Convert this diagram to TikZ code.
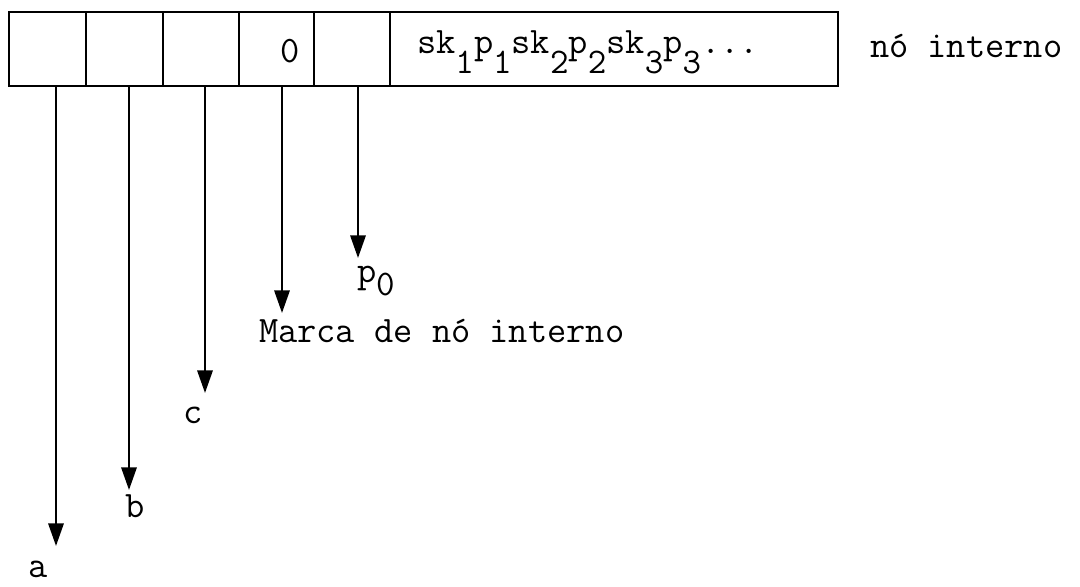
\documentclass[tikz,border=0pt]{standalone}
\usetikzlibrary{arrows.meta}
\newcommand\mysub[2]{\raisebox{#1}{\fontsize{27}{29}\selectfont #2}}
\tikzset{
  cell/.style={draw, line width=1.5pt, inner sep=0pt, outer sep=0pt, anchor=north west, minimum height=55.5pt},
  lbl/.style={font=\ttfamily\fontsize{28}{30}\selectfont, inner sep=0pt, outer sep=0pt},
  arr/.style={line width=1.7pt, -{Triangle[length=17pt,width=11.5pt]}}
}
\begin{document}
\begin{tikzpicture}[x=0.75pt,y=-0.75pt]
\useasboundingbox (0,0) rectangle (1080,586);
% cells
\node[cell, minimum width=57.75pt] (m1) at (9,12) {};
\node[cell, minimum width=57.75pt] (m2) at (86,12) {};
\node[cell, minimum width=57pt] (m3) at (163,12) {};
\node[cell, minimum width=56.25pt] (m4) at (239,12) {};
\node[cell, minimum width=57pt] (m5) at (314,12) {};
\node[cell, minimum width=336pt] (m6) at (390,12) {};
% texts in cells
\node[lbl, anchor=base] (n0) at (290,62) {0};
\node[lbl, anchor=base west] (nsk) at (417,53) {sk\mysub{-15pt}{1}p\mysub{-15pt}{1}sk\mysub{-15pt}{2}p\mysub{-15pt}{2}sk\mysub{-15pt}{3}p\mysub{-15pt}{3}...};
\node[lbl, anchor=base west] (ni) at (870,57) {nó interno};
% arrow tips
\coordinate (ta) at (56,546);
\coordinate (tb) at (129,490);
\coordinate (tc) at (205,393);
\coordinate (tm) at (282,313);
\coordinate (tp) at (358,258);
% labels
\node[lbl, anchor=base] (la) at (38,577) {a};
\node[lbl, anchor=base] (lb) at (135,517) {b};
\node[lbl, anchor=base] (lc) at (193,423) {c};
\node[lbl, anchor=base west] (lm) at (259,342) {Marca de nó interno};
\node[lbl, anchor=base west] (lp) at (357,282) {p\mysub{-10pt}{0}};
% arrows
\draw[arr] (m1.south -| ta) -- (ta);
\draw[arr] (m2.south -| tb) -- (tb);
\draw[arr] (m3.south -| tc) -- (tc);
\draw[arr] (m4.south -| tm) -- (tm);
\draw[arr] (m5.south -| tp) -- (tp);
\end{tikzpicture}
\end{document}
